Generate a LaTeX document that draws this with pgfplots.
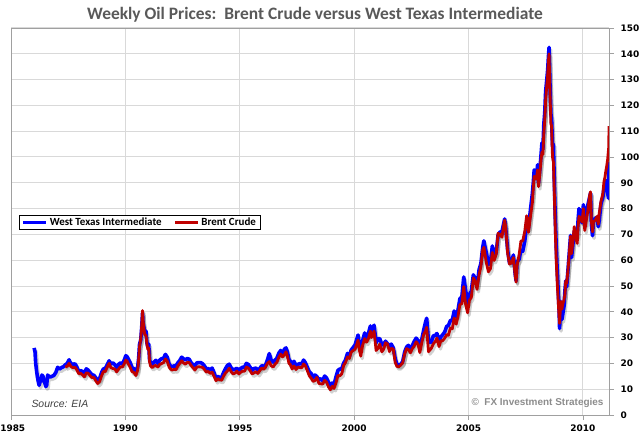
\documentclass[border=0pt]{standalone}
\usepackage{pgfplots}
\usepackage{pgfplotstable}
\pgfplotsset{compat=1.18}
\usepackage{fontspec}
\setmainfont{Carlito}
\newfontfamily\arialfont{Liberation Sans}
\newfontfamily\tickfont{DejaVu Sans}
\definecolor{wtiblue}{RGB}{0,0,255}
\definecolor{brentred}{RGB}{192,0,0}
\definecolor{gridgray}{RGB}{217,217,217}
\definecolor{axisgray}{RGB}{160,160,160}
\definecolor{titlegray}{RGB}{89,89,89}

\pgfplotstableread{
x y
1986.01 26.0
1986.05 24.5
1986.08 20.0
1986.12 17.0
1986.15 15.0
1986.19 13.0
1986.23 11.5
1986.27 12.8
1986.31 13.5
1986.35 15.5
1986.40 15.0
1986.44 13.0
1986.48 12.5
1986.52 11.0
1986.56 11.5
1986.60 15.5
1986.65 15.0
1986.71 14.7
1986.79 15.0
1986.87 15.3
1986.96 16.5
1987.04 18.5
1987.12 17.8
1987.21 18.4
1987.29 18.7
1987.37 19.4
1987.46 20.0
1987.54 21.4
1987.58 20.5
1987.62 20.0
1987.71 19.5
1987.79 19.9
1987.87 18.8
1987.96 16.8
1988.04 17.2
1988.12 16.9
1988.21 16.1
1988.29 17.9
1988.37 17.4
1988.46 16.4
1988.54 15.6
1988.62 15.4
1988.71 14.4
1988.79 13.4
1988.87 14.0
1988.96 16.5
1989.04 17.9
1989.12 18.0
1989.21 19.6
1989.29 21.0
1989.37 19.8
1989.46 20.2
1989.54 19.5
1989.62 18.4
1989.71 19.7
1989.79 20.2
1989.87 19.8
1989.96 21.5
1990.02 23.0
1990.08 22.5
1990.12 21.8
1990.21 20.3
1990.29 18.3
1990.37 18.0
1990.46 16.8
1990.54 18.8
1990.58 22.0
1990.62 27.5
1990.67 29.0
1990.71 33.5
1990.75 39.5
1990.77 36.0
1990.81 34.0
1990.85 31.5
1990.90 32.5
1990.94 28.0
1990.98 26.5
1991.02 27.5
1991.06 21.0
1991.10 20.5
1991.17 19.5
1991.25 20.5
1991.33 21.2
1991.42 20.0
1991.50 21.3
1991.58 21.8
1991.67 22.0
1991.75 23.5
1991.83 22.4
1991.92 19.5
1991.98 19.0
1992.04 18.8
1992.12 19.0
1992.21 19.0
1992.29 20.2
1992.37 21.0
1992.46 22.4
1992.54 21.8
1992.62 21.4
1992.71 21.9
1992.79 21.6
1992.87 20.3
1992.96 19.4
1993.04 19.1
1993.12 20.2
1993.21 20.3
1993.29 20.3
1993.37 19.9
1993.46 19.0
1993.54 17.8
1993.62 18.0
1993.71 17.5
1993.79 18.2
1993.87 16.5
1993.96 14.3
1994.04 15.0
1994.12 14.5
1994.21 14.7
1994.29 16.4
1994.37 17.9
1994.46 19.2
1994.54 19.7
1994.62 18.3
1994.71 17.5
1994.79 17.7
1994.87 18.1
1994.96 17.3
1995.04 18.0
1995.12 18.5
1995.21 18.6
1995.29 20.0
1995.37 19.6
1995.46 18.4
1995.54 17.3
1995.62 18.0
1995.71 18.2
1995.79 17.4
1995.87 18.0
1995.96 19.1
1996.04 18.9
1996.12 19.2
1996.21 21.4
1996.29 23.8
1996.37 21.3
1996.46 20.5
1996.54 21.3
1996.62 22.0
1996.71 24.0
1996.79 25.0
1996.87 23.7
1996.96 25.6
1997.02 26.0
1997.08 24.5
1997.15 21.5
1997.21 20.8
1997.29 19.7
1997.37 20.8
1997.46 19.2
1997.54 19.6
1997.62 19.9
1997.71 19.8
1997.79 21.3
1997.87 20.2
1997.96 18.3
1998.04 16.7
1998.12 16.1
1998.21 14.5
1998.29 15.5
1998.37 14.9
1998.46 13.6
1998.54 14.1
1998.62 13.3
1998.71 15.1
1998.79 14.4
1998.87 12.8
1998.96 11.0
1999.04 12.4
1999.12 11.8
1999.21 14.9
1999.29 17.3
1999.37 17.8
1999.46 17.9
1999.54 20.1
1999.62 21.3
1999.71 23.9
1999.79 22.6
1999.87 25.2
1999.96 26.2
2000.04 27.2
2000.12 29.5
2000.17 31.0
2000.23 27.0
2000.29 25.5
2000.37 28.8
2000.46 31.8
2000.54 29.5
2000.62 31.5
2000.71 34.5
2000.75 32.0
2000.79 33.0
2000.87 34.8
2000.96 28.0
2001.04 29.6
2001.12 29.6
2001.21 27.2
2001.29 27.4
2001.37 28.6
2001.46 27.6
2001.54 26.5
2001.62 27.5
2001.71 26.0
2001.79 22.0
2001.87 19.5
2001.96 19.3
2002.04 19.7
2002.12 20.7
2002.21 24.5
2002.29 26.3
2002.37 27.0
2002.46 25.5
2002.54 26.9
2002.62 28.4
2002.71 29.8
2002.79 28.9
2002.87 26.3
2002.96 29.5
2003.04 32.9
2003.12 36.0
2003.17 37.5
2003.21 33.0
2003.25 28.5
2003.29 28.3
2003.37 28.1
2003.46 30.7
2003.54 30.8
2003.62 31.6
2003.71 28.3
2003.79 30.3
2003.87 31.1
2003.96 32.2
2004.04 34.3
2004.12 34.7
2004.21 36.7
2004.29 36.7
2004.37 40.3
2004.46 38.0
2004.54 40.7
2004.62 45.0
2004.71 45.9
2004.79 53.5
2004.87 48.5
2004.96 43.3
2005.04 46.8
2005.12 48.0
2005.21 54.3
2005.29 53.0
2005.37 49.8
2005.46 56.3
2005.54 58.7
2005.62 65.0
2005.67 67.5
2005.71 65.6
2005.79 62.4
2005.87 58.3
2005.96 59.4
2006.04 65.5
2006.12 61.6
2006.21 62.9
2006.29 69.7
2006.37 70.9
2006.46 71.0
2006.54 74.4
2006.58 76.0
2006.62 73.0
2006.71 63.8
2006.79 58.9
2006.87 59.1
2006.96 62.0
2007.04 54.5
2007.08 52.0
2007.12 59.3
2007.21 60.4
2007.29 63.9
2007.37 63.5
2007.46 67.5
2007.54 74.1
2007.58 76.5
2007.62 72.4
2007.71 79.9
2007.79 85.8
2007.83 90.0
2007.87 95.0
2007.96 91.7
2008.02 97.0
2008.06 90.0
2008.12 95.4
2008.17 101.0
2008.21 105.5
2008.25 103.0
2008.29 112.6
2008.33 117.0
2008.37 125.4
2008.42 130.0
2008.46 133.9
2008.50 140.0
2008.52 142.5
2008.56 128.0
2008.60 116.7
2008.63 115.0
2008.67 104.1
2008.71 105.0
2008.75 90.0
2008.79 76.6
2008.83 66.0
2008.87 57.3
2008.92 48.0
2008.96 40.0
2008.98 33.5
2009.02 44.0
2009.04 41.7
2009.08 37.0
2009.12 39.1
2009.17 42.0
2009.21 47.9
2009.25 52.0
2009.29 49.7
2009.37 59.0
2009.46 69.6
2009.50 61.0
2009.54 64.2
2009.62 71.1
2009.71 69.4
2009.75 70.0
2009.79 75.7
2009.83 80.0
2009.87 78.0
2009.96 74.5
2010.02 81.5
2010.04 78.3
2010.08 74.0
2010.12 76.4
2010.21 81.2
2010.29 84.3
2010.33 86.0
2010.37 73.7
2010.42 69.5
2010.46 75.3
2010.54 76.3
2010.62 76.6
2010.67 73.0
2010.71 75.2
2010.79 81.9
2010.87 84.3
2010.92 88.0
2010.96 89.2
2011.00 91.0
2011.04 89.6
2011.08 86.0
2011.12 84.0
2011.13 87.0
2011.14 98.0
}\wti

\pgfplotstableread{
x y
1987.37 18.6
1987.46 18.9
1987.54 20.0
1987.58 19.4
1987.62 18.8
1987.71 18.3
1987.79 18.5
1987.87 17.6
1987.96 16.0
1988.04 16.2
1988.12 15.6
1988.21 14.8
1988.29 16.3
1988.37 16.2
1988.46 15.2
1988.54 14.5
1988.62 14.6
1988.71 13.2
1988.79 12.2
1988.87 12.9
1988.96 15.2
1989.04 16.9
1989.12 16.8
1989.21 18.6
1989.29 20.0
1989.37 18.3
1989.46 18.0
1989.54 17.8
1989.62 16.7
1989.71 17.9
1989.79 18.7
1989.87 18.6
1989.96 20.0
1990.02 21.3
1990.08 20.8
1990.12 19.9
1990.21 18.5
1990.29 16.8
1990.37 16.5
1990.46 15.3
1990.54 17.4
1990.58 21.5
1990.62 26.5
1990.67 29.5
1990.71 34.0
1990.75 40.5
1990.77 37.0
1990.81 33.5
1990.85 31.0
1990.90 31.0
1990.94 27.5
1990.98 25.5
1991.02 26.0
1991.06 20.5
1991.10 19.0
1991.17 18.4
1991.25 19.0
1991.33 19.2
1991.42 18.6
1991.50 19.6
1991.58 19.9
1991.67 20.3
1991.75 21.7
1991.83 20.8
1991.92 18.4
1991.98 17.8
1992.04 17.4
1992.12 17.7
1992.21 17.5
1992.29 18.9
1992.37 19.9
1992.46 21.0
1992.54 20.2
1992.62 19.7
1992.71 20.4
1992.79 20.3
1992.87 19.2
1992.96 18.3
1993.04 17.4
1993.12 18.6
1993.21 18.7
1993.29 18.6
1993.37 18.5
1993.46 17.6
1993.54 16.6
1993.62 16.9
1993.71 16.1
1993.79 16.6
1993.87 15.1
1993.96 13.3
1994.04 14.1
1994.12 13.6
1994.21 13.5
1994.29 15.0
1994.37 16.2
1994.46 17.1
1994.54 18.1
1994.62 16.8
1994.71 15.9
1994.79 16.2
1994.87 17.0
1994.96 15.9
1995.04 16.6
1995.12 17.0
1995.21 17.0
1995.29 18.6
1995.37 18.2
1995.46 17.1
1995.54 15.9
1995.62 16.3
1995.71 16.8
1995.79 16.1
1995.87 17.1
1995.96 18.2
1996.04 17.7
1996.12 18.4
1996.21 20.0
1996.29 20.7
1996.37 19.1
1996.46 18.6
1996.54 19.7
1996.62 20.4
1996.71 22.4
1996.79 23.6
1996.87 22.5
1996.96 23.5
1997.02 24.5
1997.08 22.8
1997.15 20.0
1997.21 19.5
1997.29 17.8
1997.37 19.0
1997.46 17.6
1997.54 18.6
1997.62 18.4
1997.71 18.3
1997.79 19.8
1997.87 19.0
1997.96 17.0
1998.04 15.2
1998.12 14.3
1998.21 13.0
1998.29 13.4
1998.37 14.6
1998.46 12.2
1998.54 12.1
1998.62 12.0
1998.71 13.4
1998.79 12.8
1998.87 11.0
1998.96 9.8
1999.04 11.1
1999.12 10.3
1999.21 12.6
1999.29 15.3
1999.37 15.2
1999.46 16.0
1999.54 19.2
1999.62 20.3
1999.71 22.5
1999.79 21.9
1999.87 24.4
1999.96 25.0
2000.04 25.5
2000.12 27.5
2000.17 29.0
2000.23 25.0
2000.29 22.8
2000.37 27.0
2000.46 29.6
2000.54 28.2
2000.62 29.5
2000.71 32.5
2000.75 30.0
2000.79 30.5
2000.87 32.5
2000.96 25.0
2001.04 25.8
2001.12 27.5
2001.21 24.5
2001.29 25.5
2001.37 28.0
2001.46 27.5
2001.54 24.6
2001.62 25.8
2001.71 25.6
2001.79 20.5
2001.87 18.8
2001.96 18.7
2002.04 19.4
2002.12 20.2
2002.21 23.7
2002.29 25.7
2002.37 25.4
2002.46 24.1
2002.54 25.7
2002.62 26.6
2002.71 28.4
2002.79 27.5
2002.87 24.2
2002.96 28.2
2003.04 31.2
2003.12 32.5
2003.17 34.0
2003.21 29.0
2003.25 24.5
2003.29 25.0
2003.37 25.8
2003.46 27.6
2003.54 28.4
2003.62 29.8
2003.71 26.5
2003.79 28.8
2003.87 28.8
2003.96 29.8
2004.04 31.2
2004.12 30.9
2004.21 33.8
2004.29 33.4
2004.37 37.6
2004.46 35.2
2004.54 38.2
2004.62 42.7
2004.71 43.2
2004.79 49.8
2004.87 43.0
2004.96 39.6
2005.04 44.5
2005.12 45.5
2005.21 53.1
2005.29 51.9
2005.37 48.7
2005.46 54.3
2005.54 57.5
2005.62 63.9
2005.67 65.0
2005.71 62.7
2005.79 58.5
2005.87 55.5
2005.96 56.8
2006.04 63.0
2006.12 59.9
2006.21 62.3
2006.29 70.4
2006.37 70.0
2006.46 68.9
2006.54 73.7
2006.58 75.5
2006.62 73.1
2006.71 62.7
2006.79 58.5
2006.87 58.9
2006.96 61.0
2007.04 54.0
2007.08 51.5
2007.12 57.8
2007.21 62.1
2007.29 67.4
2007.37 67.5
2007.46 71.3
2007.54 77.2
2007.58 76.0
2007.62 70.8
2007.71 77.1
2007.79 82.3
2007.83 88.0
2007.87 92.5
2007.96 91.5
2008.02 95.0
2008.06 88.5
2008.12 94.0
2008.17 99.0
2008.21 102.0
2008.25 101.0
2008.29 109.0
2008.33 114.0
2008.37 122.0
2008.42 127.5
2008.46 132.0
2008.50 138.0
2008.52 140.0
2008.56 125.0
2008.60 113.0
2008.63 112.0
2008.67 100.0
2008.71 98.0
2008.75 86.0
2008.79 72.0
2008.83 60.5
2008.87 52.5
2008.92 44.0
2008.96 38.0
2008.98 35.5
2009.02 42.0
2009.04 44.0
2009.08 41.0
2009.12 43.0
2009.17 44.5
2009.21 46.5
2009.25 52.0
2009.29 51.0
2009.37 58.5
2009.46 69.3
2009.50 62.5
2009.54 65.5
2009.62 73.0
2009.71 67.8
2009.75 66.5
2009.79 73.2
2009.83 77.0
2009.87 76.5
2009.96 74.8
2010.02 80.0
2010.04 76.2
2010.08 71.5
2010.12 73.8
2010.21 78.8
2010.29 84.9
2010.33 86.5
2010.37 75.0
2010.42 71.0
2010.46 74.8
2010.54 75.5
2010.62 77.0
2010.67 74.0
2010.71 78.0
2010.79 82.9
2010.87 85.7
2010.92 90.5
2010.96 92.0
2011.00 94.5
2011.04 96.5
2011.08 99.0
2011.10 101.0
2011.12 103.0
2011.13 104.0
2011.14 112.0
}\brent

\begin{document}
\begin{tikzpicture}
\begin{axis}[
  at={(0,0)}, anchor=south west,
  scale only axis,
  width=598bp, height=387bp,
  xmin=1985, xmax=2011.14,
  ymin=0, ymax=150,
  xtick={1985,1990,1995,2000,2005,2010},
  xticklabels={\hspace*{3.5bp}1985,1990,1995,2000,2005,2010},
  ytick={0,10,...,150},
  xticklabel style={yshift=-1.5bp},
  yticklabel style={xshift=3bp},
  xtick pos=bottom,
  ytick pos=right,
  yticklabel pos=right,
  tick align=outside,
  major tick length=5bp,
  tick style={axisgray, line width=0.8bp},
  grid=major,
  major grid style={gridgray, line width=1bp},
  axis line style={axisgray, line width=0.9bp},
  ticklabel style={font=\tickfont\bfseries\fontsize{9}{11}\selectfont, text=black},
  /pgf/number format/assume math mode=true,
  legend columns=2,
  legend cell align=left,
  legend style={
    at={(0.0134,0.517)}, anchor=north west,
    draw=black, line width=0.6bp,
    font=\bfseries\fontsize{11}{13}\selectfont,
    inner xsep=2bp, inner ysep=0.5bp,
    /tikz/every even column/.append style={column sep=10bp},
  },
  legend image code/.code={\draw[#1] (0bp,0bp) -- (23bp,0bp);},
]
% shadows
\addplot[forget plot, black, opacity=0.18, line width=3.5bp, line join=round, xshift=1.5bp, yshift=-2.5bp] table[x=x,y=y] {\wti};
\addplot[forget plot, black, opacity=0.18, line width=3bp, line join=round, xshift=1.5bp, yshift=-2.5bp] table[x=x,y=y] {\brent};
% series
\addplot[wtiblue, line width=3.6bp, line join=round] table[x=x,y=y] {\wti};
\addlegendentry{West Texas Intermediate}
\addplot[brentred, line width=2.8bp, line join=round] table[x=x,y=y] {\brent};
\addlegendentry{Brent Crude}
\end{axis}
\node[anchor=base, text=titlegray, font=\bfseries\fontsize{17.5}{20}\selectfont] at (304bp,395bp) {Weekly Oil Prices:\ \ Brent Crude versus West Texas Intermediate};
\node[anchor=west, text=black!75, font=\arialfont\itshape\fontsize{10.5}{12}\selectfont] at (17bp,11bp) {Source: EIA};
\node[anchor=east, text=black!45, font=\arialfont\bfseries\fontsize{10}{12}\selectfont] at (596bp,12bp) {\textcopyright\ \ FX Investment Strategies};
\pgfresetboundingbox
\path[use as bounding box] (-11bp,-23bp) rectangle (629bp,415bp);
\end{tikzpicture}
\end{document}
